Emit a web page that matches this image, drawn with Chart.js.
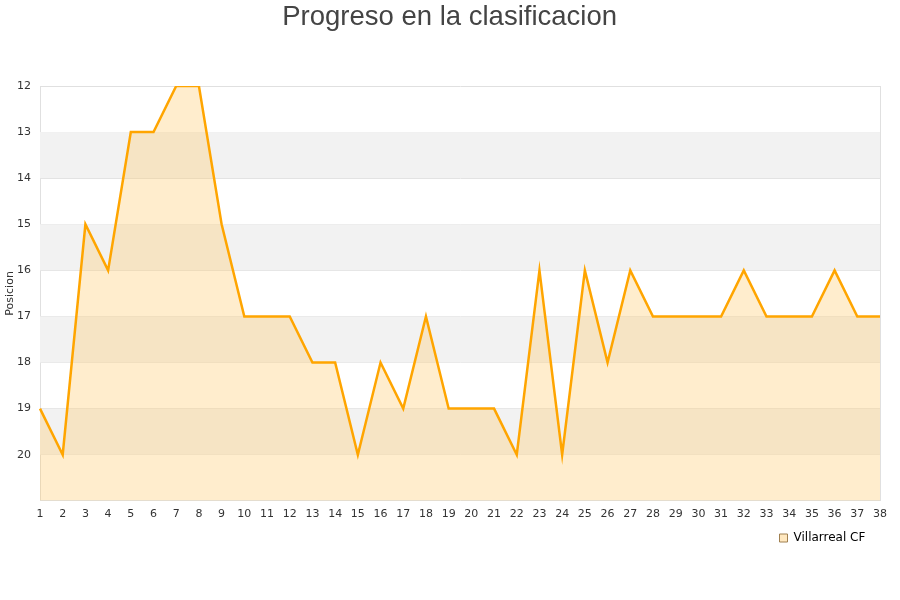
<!DOCTYPE html>
<html>
<head>
<meta charset="utf-8">
<script src="https://cdn.jsdelivr.net/npm/chart.js@4.4.0/dist/chart.umd.min.js"></script>
<style>
    body { margin: 0; background: #fff; }
    #wrap { width: 900px; height: 600px; }
</style>
</head>
<body>
<div id="wrap"><canvas id="chart" width="900" height="600"></canvas></div>
<script>
// Jornadas y posiciones
const jornadas = ['1','2','3','4','5','6','7','8','9','10','11','12','13','14','15','16','17','18','19','20',
    '21','22','23','24','25','26','27','28','29','30','31','32','33','34','35','36','37','38'];
const posiciones = [19, 20, 15, 16, 13, 13, 12, 12, 15, 17, 17, 17, 18, 18, 20, 18, 19, 17, 19, 19,
    19, 20, 16, 20, 16, 18, 16, 17, 17, 17, 17, 16, 17, 17, 17, 16, 17, 17];
const yTicks = [12, 13, 14, 15, 16, 17, 18, 19, 20];
const bandas = [[13, 14], [15, 16], [17, 18], [19, 20]];

const colors = {
    line: '#ffa500',
    fill: 'rgba(255, 200, 100, 0.32)',
    band: '#f2f2f2',
    grid: '#e0e0e0',
    text: '#333333'
};

// Franjas grises alternas detras de la serie + marco del area
const bandPlugin = {
    id: 'bands',
    beforeDatasetsDraw(chart) {
        const { ctx, chartArea, scales } = chart;
        ctx.save();
        ctx.fillStyle = colors.band;
        bandas.forEach(b => {
            const y1 = scales.y.getPixelForValue(b[0]);
            const y2 = scales.y.getPixelForValue(b[1]);
            ctx.fillRect(chartArea.left, y1, chartArea.right - chartArea.left, y2 - y1);
        });
        ctx.strokeStyle = colors.grid;
        ctx.lineWidth = 1;
        ctx.beginPath();
        ctx.moveTo(Math.round(chartArea.right) + 0.5, chartArea.top);
        ctx.lineTo(Math.round(chartArea.right) + 0.5, chartArea.bottom);
        ctx.stroke();
        ctx.restore();
    }
};

new Chart(document.getElementById('chart'), {
    type: 'line',
    data: {
        labels: jornadas,
        datasets: [{
            label: 'Villarreal CF',
            data: posiciones,
            borderColor: colors.line,
            backgroundColor: colors.fill,
            borderWidth: 2.5,
            pointRadius: 0,
            tension: 0,
            fill: { value: 21 }
        }]
    },
    options: {
        responsive: false,
        animation: false,
        layout: { padding: { left: 4, right: 20, top: 1, bottom: 46 } },
        plugins: {
            title: {
                display: true,
                // espacios iniciales para centrar el titulo sobre el lienzo
                text: '  Progreso en la clasificacion',
                color: '#444',
                font: { family: 'Liberation Sans', size: 27.5, weight: 'normal' },
                padding: { top: 0, bottom: 52 }
            },
            legend: {
                position: 'bottom',
                align: 'end',
                labels: {
                    color: '#222',
                    font: { family: 'DejaVu Sans', size: 12 },
                    boxWidth: 8,
                    boxHeight: 8,
                    padding: 7,
                    generateLabels(chart) {
                        return [{
                            text: 'Villarreal CF  ',
                            fillStyle: '#ffe8c0',
                            strokeStyle: '#a08050',
                            lineWidth: 1,
                            datasetIndex: 0
                        }];
                    }
                }
            },
            tooltip: { enabled: false }
        },
        scales: {
            x: {
                offset: false,
                afterFit(scale) { scale.height += 5; },
                grid: { display: false },
                border: { color: colors.grid },
                ticks: {
                    color: colors.text,
                    font: { family: 'DejaVu Sans', size: 11 },
                    maxRotation: 0,
                    autoSkip: false,
                    padding: -1
                }
            },
            y: {
                reverse: true,
                min: 12,
                max: 21,
                afterFit(scale) { scale.width = 36; },
                grid: { color: colors.grid, drawTicks: false },
                border: { color: colors.grid },
                title: {
                    display: true,
                    text: 'Posicion',
                    color: colors.text,
                    font: { family: 'DejaVu Sans', size: 11 },
                    padding: 0
                },
                afterBuildTicks(scale) {
                    scale.ticks = yTicks.map(v => ({ value: v }));
                },
                ticks: {
                    color: colors.text,
                    font: { family: 'DejaVu Sans', size: 11 },
                    padding: 9
                }
            }
        }
    },
    plugins: [bandPlugin]
});
</script>
</body>
</html>
